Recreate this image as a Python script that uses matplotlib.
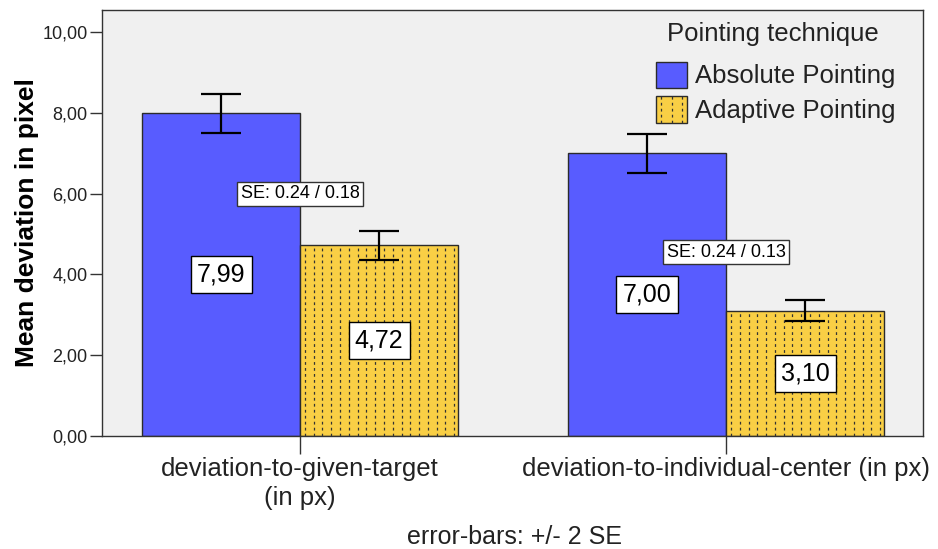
import numpy as np
import matplotlib
matplotlib.use("Agg")
import matplotlib.pyplot as plt
from matplotlib.patches import Rectangle, Patch
from matplotlib.lines import Line2D
from matplotlib.legend_handler import HandlerBase

plt.rcParams['font.family'] = ['Liberation Sans', 'DejaVu Sans']
plt.rcParams['lines.scale_dashes'] = False

categories = ["deviation-to-given-target\n(in px)", "deviation-to-individual-center (in px)"]
techniques = ["Absolute Pointing", "Adaptive Pointing"]
absolute_mean = [7.99, 7.00]
adaptive_mean = [4.72, 3.10]
absolute_se = [0.24, 0.24]
adaptive_se = [0.18, 0.13]
se_label_y = [6.0, 4.55]
yticks = [0, 2, 4, 6, 8, 10]

BLUE = "#585CFF"
YELLOW = "#F9CF45"
EDGE = "#2b2b2b"
DASH = (0, (2.0, 2.3))


def fmt(v):
    return f"{v:.2f}".replace(".", ",")


def add_dots(ax, bar, n=18):
    # dotted vertical lines like the SPSS fill pattern
    x0, w = bar.get_x(), bar.get_width()
    h = bar.get_height()
    step = w / n
    for k in range(n):
        x = x0 + step * (k + 0.55)
        ln = Line2D([x, x], [0, h], color="#333333", lw=0.9, linestyle=DASH)
        ax.add_line(ln)
        ln.set_clip_path(bar)


class DottedHandler(HandlerBase):
    def create_artists(self, legend, orig_handle, xdescent, ydescent,
                       width, height, fontsize, trans):
        rect = Rectangle((-xdescent, -ydescent), width, height,
                         facecolor=YELLOW, edgecolor=EDGE, lw=1, transform=trans)
        arts = [rect]
        for k in range(3):
            x = -xdescent + width * (k + 0.5) / 3
            arts.append(Line2D([x, x], [-ydescent, -ydescent + height], color="#333333",
                               lw=0.9, linestyle=DASH, transform=trans))
        return arts


fig = plt.figure(figsize=(9.38, 5.49), dpi=100)
ax = fig.add_axes([0.1087, 0.2058, 0.8753, 0.776])
ax.set_facecolor("#F0F0F0")

x = np.arange(len(categories))
w = 0.371

b1 = ax.bar(x - w / 2, absolute_mean, w, color=BLUE, edgecolor=EDGE, lw=1, zorder=2)
b2 = ax.bar(x + w / 2, adaptive_mean, w, color=YELLOW, edgecolor=EDGE, lw=1, zorder=2)
for bar in b2:
    add_dots(ax, bar)

ax.errorbar(x - w / 2, absolute_mean, yerr=2 * np.array(absolute_se), fmt="none",
            ecolor="black", elinewidth=1.6, capsize=14.5, capthick=1.6, zorder=4)
ax.errorbar(x + w / 2, adaptive_mean, yerr=2 * np.array(adaptive_se), fmt="none",
            ecolor="black", elinewidth=1.6, capsize=14.5, capthick=1.6, zorder=4)

box = dict(boxstyle="square,pad=0.25", facecolor="white", edgecolor="black", lw=1)
for xi, m in zip(x - w / 2, absolute_mean):
    ax.text(xi, m / 2, fmt(m), ha="center", va="center", fontsize=18, bbox=box, zorder=5)
for xi, m in zip(x + w / 2, adaptive_mean):
    ax.text(xi, m / 2, fmt(m), ha="center", va="center", fontsize=18, bbox=box, zorder=5)

sebox = dict(boxstyle="square,pad=0.2", facecolor="white", edgecolor="#333333", lw=1)
for xi, sa, sb, yy in zip(x, absolute_se, adaptive_se, se_label_y):
    ax.text(xi, yy, f"SE: {sa:.2f} / {sb:.2f}", ha="center", va="center",
            fontsize=13, bbox=sebox, zorder=6)

ax.set_xlim(-0.465, 1.462)
ax.set_ylim(0, 10.55)
ax.set_yticks(yticks)
ax.set_yticklabels([fmt(v) for v in yticks], fontsize=13, color="#222222")
ax.set_xticks(x)
ax.set_xticklabels(categories, fontsize=18.5, color="#222222", linespacing=1.25)
ax.tick_params(axis="y", length=9, width=1, pad=1.5, color="#333333")
ax.tick_params(axis="x", length=13, width=1, pad=2, color="#333333")
for s in ax.spines.values():
    s.set_color("#333333")
    s.set_linewidth(1)

ax.set_ylabel("Mean deviation in pixel", fontsize=19, fontweight="bold")
ax.yaxis.set_label_coords(-0.077, 0.5)

handles = [Patch(facecolor=BLUE, edgecolor=EDGE, lw=1), Patch(facecolor=YELLOW, edgecolor=EDGE)]
leg = ax.legend(handles, techniques, loc="upper right",
                bbox_to_anchor=(0.985, 0.915), frameon=False, fontsize=18.5,
                handlelength=1.2, handleheight=1.2,
                handletextpad=0.3, labelspacing=0.3, borderaxespad=0.2,
                handler_map={handles[1]: DottedHandler()})
for t in leg.get_texts():
    t.set_color("#222222")
ax.text(0.817, 0.944, "Pointing technique", transform=ax.transAxes, ha="center",
        va="center", fontsize=18.5, color="#222222")

fig.text(0.549, 0.022, "error-bars: +/- 2 SE", ha="center", va="center",
         fontsize=18, color="#222222")

fig.savefig("out.png", dpi=100)
